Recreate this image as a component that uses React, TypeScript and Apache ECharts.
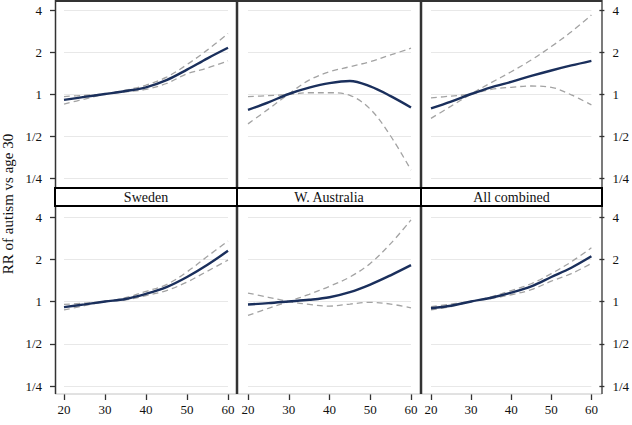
import React, { useEffect, useRef } from "react";
import * as echarts from "echarts";

const ages = [20, 25, 30, 35, 40, 45, 50, 55, 60];
const yTicks = [0.25, 0.5, 1, 2, 4];
const stripLabels = ["Sweden", "W. Australia", "All combined"];
const yTitle = "RR of autism vs age 30";

// Top row (RR relative to age 30)
const swedenTopMean = [0.908, 0.953, 1, 1.05, 1.117, 1.257, 1.495, 1.802, 2.144];
const swedenTopCiA = [0.959, 0.979, 1, 1.064, 1.157, 1.32, 1.625, 2.071, 2.713];
const swedenTopCiB = [0.847, 0.92, 1, 1.035, 1.079, 1.189, 1.395, 1.537, 1.729];

const waTopMean = [0.768, 0.871, 1, 1.11, 1.197, 1.24, 1.133, 0.966, 0.801];
const waTopCiA = [0.959, 0.973, 0.993, 1.021, 1.021, 0.979, 0.779, 0.5, 0.285];
const waTopCiB = [0.611, 0.779, 1, 1.257, 1.444, 1.569, 1.705, 1.905, 2.129];

const allTopMean = [0.79, 0.883, 1, 1.117, 1.223, 1.347, 1.474, 1.602, 1.729];
const allTopCiA = [0.939, 0.966, 1, 1.079, 1.117, 1.141, 1.117, 0.986, 0.835];
const allTopCiB = [0.669, 0.818, 1, 1.206, 1.444, 1.753, 2.188, 2.79, 3.681];

// Bottom row
const swedenBotMean = [0.911, 0.953, 1, 1.042, 1.133, 1.266, 1.495, 1.828, 2.297];
const swedenBotCiA = [0.953, 0.973, 1, 1.064, 1.181, 1.32, 1.625, 2.099, 2.694];
const swedenBotCiB = [0.871, 0.933, 1, 1.028, 1.102, 1.197, 1.375, 1.647, 1.972];

const waBotMean = [0.953, 0.973, 1, 1.028, 1.072, 1.165, 1.32, 1.537, 1.815];
const waBotCiA = [1.149, 1.072, 1, 0.953, 0.927, 0.959, 0.986, 0.959, 0.901];
const waBotCiB = [0.795, 0.895, 1, 1.125, 1.283, 1.495, 1.866, 2.585, 3.811];

const allBotMean = [0.895, 0.933, 1, 1.064, 1.157, 1.283, 1.495, 1.741, 2.099];
const allBotCiA = [0.92, 0.959, 1, 1.079, 1.197, 1.338, 1.58, 1.918, 2.412];
const allBotCiB = [0.871, 0.92, 1, 1.05, 1.117, 1.214, 1.395, 1.58, 1.866];

const panels = [
  [swedenTopMean, swedenTopCiA, swedenTopCiB],
  [waTopMean, waTopCiA, waTopCiB],
  [allTopMean, allTopCiA, allTopCiB],
  [swedenBotMean, swedenBotCiA, swedenBotCiB],
  [waBotMean, waBotCiA, waBotCiB],
  [allBotMean, allBotCiA, allBotCiB],
];

const FONT = "'Liberation Serif', 'Times New Roman', serif";

function fmtTick(v: number) {
  const e = Math.round(Math.log2(v));
  return e >= 0 ? String(Math.pow(2, e)) : "1/" + Math.pow(2, -e);
}

export default function App() {
  const ref = useRef<HTMLDivElement>(null);
  useEffect(() => {
    if (!ref.current) return;
    const chart = echarts.init(ref.current, null, { renderer: "svg" });

    const colX = [
      { left: 64, width: 164, x0: 55, x1: 237 },
      { left: 248, width: 163, x0: 237, x1: 421 },
      { left: 431, width: 163, x0: 421, x1: 602 },
    ];
    const rowY = [
      { top: 10, height: 168 },
      { top: 217, height: 169 },
    ];

    const grids: any[] = [];
    const xAxes: any[] = [];
    const yAxes: any[] = [];
    const series: any[] = [];

    for (let r = 0; r < 2; r++) {
      for (let c = 0; c < 3; c++) {
        const i = r * 3 + c;
        grids.push({
          left: colX[c].left,
          width: colX[c].width,
          top: rowY[r].top,
          height: rowY[r].height,
          containLabel: false,
        });
        xAxes.push({
          type: "value",
          gridIndex: i,
          min: 20,
          max: 60,
          interval: 10,
          show: r === 1,
          position: "bottom",
          offset: 8,
          axisLine: { show: false },
          axisTick: { show: true, length: 6, lineStyle: { color: "#333", width: 1.3 } },
          axisLabel: {
            show: true,
            margin: 9,
            color: "#111",
            fontFamily: FONT,
            fontSize: 13,
          },
          splitLine: { show: false },
        });
        const showY = c !== 1;
        yAxes.push({
          type: "log",
          logBase: 2,
          gridIndex: i,
          min: yTicks[0],
          max: yTicks[yTicks.length - 1],
          position: c === 2 ? "right" : "left",
          offset: c === 2 ? 8 : 9,
          axisLine: { show: false },
          axisTick: {
            show: showY,
            length: 5,
            lineStyle: { color: "#333", width: 1.3 },
          },
          axisLabel: {
            show: showY,
            margin: 13,
            color: "#111",
            fontFamily: FONT,
            fontSize: 13,
            formatter: fmtTick,
          },
          splitLine: { show: true, lineStyle: { color: "#e8e8e8", width: 1 } },
        });
        const [mean, ciA, ciB] = panels[i];
        const mk = (arr: number[]) => ages.map((a, k) => [a, arr[k]]);
        [ciA, ciB].forEach((ci) => {
          series.push({
            type: "line",
            xAxisIndex: i,
            yAxisIndex: i,
            data: mk(ci),
            smooth: 0.35,
            showSymbol: false,
            lineStyle: { color: "#a3a3a3", width: 1.3, type: [6, 4] },
            z: 2,
          });
        });
        series.push({
          type: "line",
          xAxisIndex: i,
          yAxisIndex: i,
          data: mk(mean),
          smooth: 0.35,
          showSymbol: false,
          lineStyle: { color: "#1a2f5c", width: 2.4 },
          z: 3,
        });
      }
    }

    const graphics: any[] = [];
    graphics.push({ type: "line", shape: { x1: 55, y1: 1, x2: 602, y2: 1 }, style: { stroke: "#333", lineWidth: 2 }, z: 10 });
    graphics.push({ type: "line", shape: { x1: 55, y1: 394, x2: 602, y2: 394 }, style: { stroke: "#c4c4c4", lineWidth: 1 }, z: 10 });
    graphics.push({ type: "line", shape: { x1: 55.5, y1: 0, x2: 55.5, y2: 394 }, style: { stroke: "#333", lineWidth: 1.5 }, z: 10 });
    graphics.push({ type: "line", shape: { x1: 602, y1: 0, x2: 602, y2: 394 }, style: { stroke: "#333", lineWidth: 1.3 }, z: 10 });
    [237, 421].forEach((x) => {
      graphics.push({ type: "line", shape: { x1: x, y1: 0, x2: x, y2: 394 }, style: { stroke: "#333", lineWidth: 2.5 }, z: 10 });
    });
    colX.forEach((cx, c) => {
      graphics.push({
        type: "rect",
        shape: { x: cx.x0, y: 188, width: cx.x1 - cx.x0, height: 18 },
        style: { fill: "#fff", stroke: "#000", lineWidth: 2 },
        z: 11,
      });
      graphics.push({
        type: "text",
        x: (cx.x0 + cx.x1) / 2,
        y: 197.5,
        style: {
          text: stripLabels[c],
          fontFamily: FONT,
          fontSize: 14,
          fill: "#111",
          align: "center",
          verticalAlign: "middle",
        },
        z: 12,
      });
    });
    graphics.push({
      type: "text",
      x: 8,
      y: 204,
      rotation: Math.PI / 2,
      style: {
        text: yTitle,
        fontFamily: FONT,
        fontSize: 15,
        fill: "#111",
        align: "center",
        verticalAlign: "middle",
      },
    });

    chart.setOption({
      animation: false,
      backgroundColor: "#fff",
      grid: grids,
      xAxis: xAxes,
      yAxis: yAxes,
      series,
      graphic: graphics,
    });
    return () => chart.dispose();
  }, []);
  return (
    <div
      ref={ref}
      style={{ position: "fixed", left: 0, top: 0, width: 632, height: 425, background: "#fff" }}
    />
  );
}
